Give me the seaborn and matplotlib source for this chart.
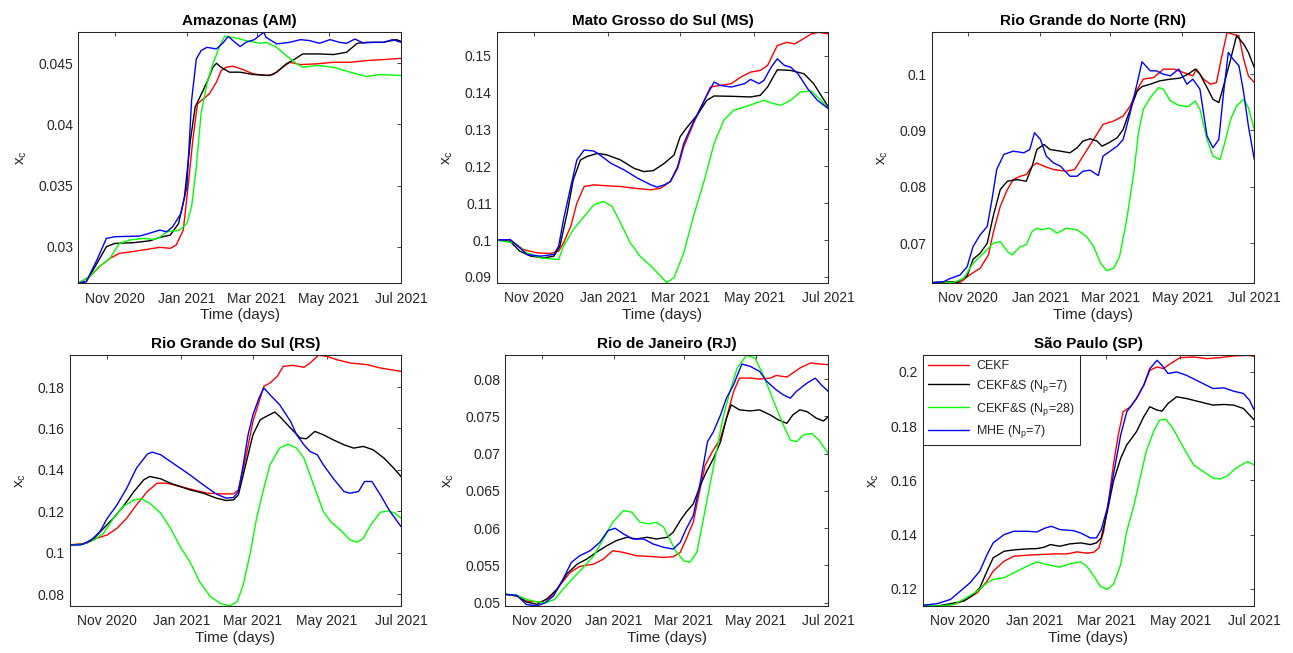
import numpy as np
import pandas as pd
import matplotlib
matplotlib.use("Agg")
import matplotlib.pyplot as plt
import matplotlib.dates as mdates
from matplotlib.ticker import MultipleLocator, FormatStrFormatter
from matplotlib.lines import Line2D
import seaborn as sns

# ---------------- data (day offsets from 2020-10-01, values of x_c) ----------------
START = "2020-10-01"
END = "2021-07-01"
methods = ["CEKF", "CEKF&S (N$_p$=7)", "CEKF&S (N$_p$=28)", "MHE (N$_p$=7)"]
colors = ["#ff0000", "#000000", "#00ff00", "#0000ff"]
titles = ["Amazonas (AM)", "Mato Grosso do Sul (MS)", "Rio Grande do Norte (RN)",
          "Rio Grande do Sul (RS)", "Rio de Janeiro (RJ)", "São Paulo (SP)"]
ytick_steps = [0.005, 0.01, 0.01, 0.02, 0.005, 0.02]

# Amazonas
am_cekf_d = [0, 10, 18, 27, 35, 46, 58, 69, 78, 83, 89, 93, 97, 101, 106, 111, 117, 121, 125, 131, 140, 148, 159, 165, 173, 179, 188, 202, 216, 230, 244, 258, 273]
am_cekf_v = [0.02701, 0.02756, 0.02837, 0.02905, 0.02946, 0.0296, 0.02978, 0.02995, 0.02987, 0.03014, 0.03136, 0.03489, 0.0387, 0.04169, 0.04209, 0.0425, 0.04345, 0.0444, 0.04467, 0.04476, 0.04446, 0.04413, 0.044, 0.04408, 0.04467, 0.04508, 0.04489, 0.04495, 0.04508, 0.04508, 0.04522, 0.0453, 0.0454]
am_s7_d = [0, 7, 16, 24, 31, 47, 61, 69, 78, 85, 90, 95, 99, 103, 109, 114, 117, 121, 128, 137, 148, 162, 168, 176, 182, 190, 204, 216, 227, 236, 244, 258, 269, 273]
am_s7_v = [0.02701, 0.02715, 0.02864, 0.03, 0.03027, 0.03033, 0.03049, 0.03076, 0.03095, 0.0319, 0.03408, 0.0387, 0.04141, 0.04223, 0.04345, 0.04467, 0.045, 0.04467, 0.04427, 0.04427, 0.04408, 0.044, 0.04427, 0.04495, 0.04527, 0.04576, 0.04576, 0.04571, 0.0459, 0.04663, 0.04671, 0.04671, 0.04693, 0.04679]
am_s28_d = [0, 10, 18, 27, 35, 44, 55, 64, 69, 75, 86, 92, 96, 100, 104, 109, 114, 120, 124, 131, 142, 154, 159, 168, 176, 185, 190, 202, 216, 230, 244, 255, 273]
am_s28_v = [0.02701, 0.02756, 0.02837, 0.02905, 0.03027, 0.03055, 0.03068, 0.0306, 0.03076, 0.03122, 0.03136, 0.0319, 0.03326, 0.03652, 0.04087, 0.04332, 0.04495, 0.04644, 0.0472, 0.04712, 0.04685, 0.04663, 0.04671, 0.0463, 0.04562, 0.04495, 0.04467, 0.04481, 0.04467, 0.04427, 0.04391, 0.04408, 0.044]
am_mhe_d = [0, 7, 16, 24, 31, 52, 58, 69, 75, 80, 87, 92, 96, 100, 104, 109, 117, 123, 127, 131, 137, 142, 149, 157, 159, 168, 179, 188, 196, 204, 213, 221, 227, 234, 241, 250, 258, 266, 273]
am_mhe_v = [0.02701, 0.02715, 0.02892, 0.03068, 0.03082, 0.03087, 0.03103, 0.03136, 0.03122, 0.03163, 0.03272, 0.03489, 0.04196, 0.04535, 0.04603, 0.0463, 0.04617, 0.04671, 0.0472, 0.04685, 0.04636, 0.04671, 0.04693, 0.04753, 0.04712, 0.04658, 0.04671, 0.04693, 0.04685, 0.04663, 0.04693, 0.04671, 0.04663, 0.04698, 0.04666, 0.04671, 0.04671, 0.04693, 0.04671]

# Mato Grosso do Sul
ms_cekf_d = [0, 11, 22, 33, 44, 51, 55, 61, 66, 72, 80, 91, 102, 113, 127, 135, 143, 149, 154, 162, 171, 176, 184, 193, 201, 209, 217, 223, 231, 239, 245, 250, 259, 265, 273]
ms_cekf_v = [0.1, 0.10013, 0.09744, 0.09654, 0.09636, 0.09699, 0.09924, 0.10373, 0.11002, 0.11451, 0.11496, 0.11469, 0.11451, 0.11406, 0.11361, 0.11406, 0.11586, 0.11945, 0.12529, 0.13158, 0.13787, 0.14146, 0.14191, 0.14236, 0.14416, 0.14551, 0.14596, 0.1473, 0.1527, 0.15359, 0.15314, 0.15404, 0.15584, 0.15629, 0.15584]
ms_s7_d = [0, 11, 19, 28, 39, 47, 52, 58, 63, 69, 74, 83, 91, 102, 113, 121, 129, 138, 146, 151, 157, 165, 173, 179, 193, 209, 217, 223, 231, 242, 253, 261, 273]
ms_s7_v = [0.1, 0.09968, 0.09699, 0.09564, 0.09519, 0.09564, 0.09834, 0.10732, 0.11631, 0.1217, 0.1226, 0.1235, 0.12305, 0.1217, 0.11945, 0.11855, 0.11882, 0.1208, 0.12305, 0.12799, 0.13068, 0.13383, 0.13787, 0.13904, 0.13895, 0.13877, 0.13922, 0.14146, 0.14614, 0.14596, 0.14506, 0.14236, 0.13607]
ms_s28_d = [0, 14, 25, 36, 44, 51, 55, 63, 72, 80, 88, 95, 102, 110, 118, 127, 135, 140, 146, 154, 162, 171, 179, 187, 195, 204, 212, 220, 228, 234, 242, 250, 259, 267, 273]
ms_s28_v = [0.1, 0.09924, 0.09654, 0.09519, 0.09492, 0.09474, 0.09834, 0.10283, 0.10642, 0.10957, 0.11047, 0.10912, 0.10463, 0.09924, 0.09564, 0.09295, 0.09025, 0.08845, 0.08982, 0.09654, 0.10642, 0.11631, 0.12619, 0.13248, 0.13518, 0.13607, 0.13697, 0.13787, 0.13697, 0.13652, 0.13787, 0.14012, 0.14039, 0.13787, 0.13562]
ms_mhe_d = [0, 11, 19, 25, 36, 47, 51, 55, 61, 66, 72, 80, 85, 94, 105, 116, 127, 132, 138, 143, 149, 154, 162, 173, 179, 184, 193, 204, 209, 216, 220, 226, 231, 237, 242, 248, 256, 264, 273]
ms_mhe_v = [0.1, 0.10013, 0.09789, 0.09609, 0.09564, 0.09609, 0.09834, 0.10553, 0.11451, 0.1217, 0.12439, 0.12412, 0.12305, 0.1208, 0.119, 0.11676, 0.11496, 0.11433, 0.11496, 0.11586, 0.1199, 0.12619, 0.13203, 0.13922, 0.14281, 0.14191, 0.14146, 0.14236, 0.14353, 0.14236, 0.14326, 0.14686, 0.1491, 0.1473, 0.14686, 0.14506, 0.14101, 0.13787, 0.13562]

# Rio Grande do Norte
rn_cekf_d = [0, 16, 24, 32, 41, 48, 52, 58, 64, 69, 75, 80, 85, 89, 95, 103, 114, 121, 128, 137, 145, 154, 162, 168, 174, 179, 188, 196, 205, 213, 221, 224, 230, 236, 241, 245, 250, 254, 260, 264, 268, 273]
rn_cekf_v = [0.06298, 0.06316, 0.06298, 0.06435, 0.06554, 0.06791, 0.07177, 0.07653, 0.0795, 0.08128, 0.08188, 0.08217, 0.08366, 0.08425, 0.08366, 0.08307, 0.08277, 0.08307, 0.08544, 0.08841, 0.09109, 0.09168, 0.09257, 0.09436, 0.09733, 0.09911, 0.09941, 0.10089, 0.10089, 0.1003, 0.0997, 0.10089, 0.09911, 0.09822, 0.09851, 0.10267, 0.10743, 0.10713, 0.10683, 0.10267, 0.0997, 0.09851]
rn_s7_d = [0, 13, 21, 30, 35, 41, 47, 52, 58, 64, 72, 80, 85, 89, 95, 100, 109, 117, 123, 128, 134, 140, 144, 150, 157, 162, 168, 174, 178, 185, 193, 202, 210, 217, 223, 227, 233, 238, 243, 247, 253, 258, 264, 268, 273]
rn_s7_v = [0.06298, 0.06316, 0.06298, 0.06417, 0.06714, 0.06821, 0.06999, 0.07475, 0.0795, 0.08099, 0.08128, 0.08099, 0.08366, 0.08663, 0.08752, 0.08663, 0.08633, 0.08604, 0.08693, 0.08812, 0.08853, 0.08812, 0.08722, 0.08782, 0.08871, 0.0902, 0.09376, 0.09703, 0.0978, 0.09822, 0.09881, 0.09911, 0.09929, 0.1, 0.10089, 0.1, 0.09762, 0.09554, 0.09495, 0.09792, 0.10267, 0.10683, 0.10535, 0.10386, 0.10119]
rn_s28_d = [0, 10, 18, 27, 35, 44, 52, 58, 64, 68, 75, 80, 85, 89, 93, 100, 106, 114, 123, 131, 137, 143, 148, 154, 159, 165, 171, 175, 179, 185, 192, 196, 202, 209, 217, 223, 227, 233, 238, 244, 248, 253, 258, 264, 268, 273]
rn_s28_v = [0.06298, 0.06316, 0.06298, 0.06375, 0.06643, 0.06821, 0.06999, 0.07029, 0.06851, 0.06791, 0.0694, 0.0697, 0.07207, 0.07267, 0.07237, 0.07267, 0.07177, 0.07267, 0.07237, 0.07118, 0.0694, 0.06643, 0.06512, 0.06554, 0.06762, 0.07415, 0.08247, 0.0896, 0.09376, 0.09584, 0.09762, 0.09733, 0.09525, 0.09447, 0.09424, 0.09525, 0.09376, 0.08841, 0.08544, 0.08485, 0.08782, 0.09198, 0.09436, 0.09554, 0.09406, 0.0902]
rn_mhe_d = [0, 10, 16, 24, 30, 35, 41, 47, 51, 55, 61, 69, 78, 83, 87, 92, 97, 103, 109, 117, 123, 128, 134, 141, 145, 151, 157, 162, 168, 174, 178, 185, 190, 196, 202, 209, 216, 221, 227, 233, 238, 243, 247, 251, 255, 260, 264, 268, 273]
rn_mhe_v = [0.06298, 0.06316, 0.06375, 0.06435, 0.06583, 0.0694, 0.07148, 0.07296, 0.07772, 0.08307, 0.08574, 0.08633, 0.08604, 0.08663, 0.0896, 0.08841, 0.08544, 0.08425, 0.08366, 0.08188, 0.08188, 0.08277, 0.08295, 0.082, 0.08544, 0.08633, 0.08722, 0.08841, 0.09317, 0.09851, 0.1022, 0.10059, 0.10059, 0.1, 0.0997, 0.10089, 0.09822, 0.09911, 0.09733, 0.08901, 0.08693, 0.08841, 0.09673, 0.10386, 0.10267, 0.10149, 0.09673, 0.09079, 0.08485]

# Rio Grande do Sul
rs_cekf_d = [0, 14, 22, 31, 39, 47, 55, 64, 72, 80, 91, 102, 113, 124, 135, 139, 145, 151, 160, 165, 171, 176, 184, 193, 198, 205, 212, 220, 231, 245, 256, 273]
rs_cekf_v = [0.10383, 0.10464, 0.10705, 0.10866, 0.11188, 0.11672, 0.12316, 0.1296, 0.13362, 0.13362, 0.13201, 0.1304, 0.12879, 0.12847, 0.12847, 0.1304, 0.1457, 0.16341, 0.18032, 0.18193, 0.18515, 0.18998, 0.19047, 0.1895, 0.19159, 0.1953, 0.19481, 0.1932, 0.19159, 0.19079, 0.18918, 0.18757]
rs_s7_d = [0, 11, 20, 28, 36, 44, 53, 61, 66, 75, 83, 91, 99, 110, 121, 129, 135, 139, 145, 151, 157, 162, 169, 173, 182, 190, 195, 202, 209, 217, 226, 234, 242, 250, 259, 267, 273]
rs_s7_v = [0.10383, 0.10415, 0.10705, 0.11188, 0.11672, 0.12235, 0.1296, 0.13523, 0.13684, 0.13572, 0.13362, 0.13201, 0.1304, 0.12879, 0.12638, 0.12525, 0.12557, 0.12799, 0.14248, 0.15697, 0.16422, 0.16583, 0.16792, 0.16583, 0.16019, 0.15536, 0.15504, 0.15858, 0.15697, 0.15456, 0.15214, 0.15053, 0.15134, 0.14973, 0.1457, 0.14087, 0.13684]
rs_s28_d = [0, 11, 20, 28, 36, 44, 53, 59, 66, 75, 83, 91, 99, 107, 116, 124, 132, 138, 143, 149, 154, 160, 165, 173, 180, 187, 193, 198, 204, 209, 215, 223, 231, 237, 242, 248, 256, 263, 268, 273]
rs_s28_v = [0.10383, 0.10415, 0.10625, 0.10947, 0.11672, 0.12235, 0.12557, 0.12605, 0.12396, 0.11913, 0.11188, 0.10303, 0.09578, 0.08612, 0.07887, 0.07565, 0.07437, 0.07646, 0.08451, 0.10061, 0.11672, 0.13121, 0.14248, 0.15053, 0.15246, 0.15053, 0.1457, 0.13765, 0.12799, 0.11994, 0.11511, 0.11108, 0.10625, 0.10512, 0.10705, 0.1135, 0.11961, 0.12026, 0.11913, 0.11672]
rs_mhe_d = [0, 9, 17, 25, 31, 39, 47, 55, 64, 68, 75, 83, 91, 99, 110, 121, 129, 135, 139, 143, 147, 151, 156, 160, 165, 173, 182, 187, 193, 198, 204, 209, 217, 226, 231, 238, 243, 249, 256, 264, 273]
rs_mhe_v = [0.10383, 0.10383, 0.10577, 0.11027, 0.11672, 0.12316, 0.13121, 0.14087, 0.14763, 0.1486, 0.14731, 0.14409, 0.14087, 0.13765, 0.13282, 0.12831, 0.12638, 0.1267, 0.1296, 0.14248, 0.15697, 0.16663, 0.17469, 0.17952, 0.1763, 0.17147, 0.16341, 0.15697, 0.15214, 0.14892, 0.14731, 0.14248, 0.13604, 0.1296, 0.12879, 0.1296, 0.13443, 0.13443, 0.12799, 0.11994, 0.11269]

# Rio de Janeiro
rj_cekf_d = [0, 10, 18, 30, 38, 46, 55, 63, 75, 83, 91, 100, 111, 122, 134, 142, 148, 153, 159, 163, 169, 175, 182, 187, 193, 198, 207, 215, 224, 229, 238, 243, 249, 258, 266, 273]
rj_cekf_v = [0.05113, 0.05091, 0.05023, 0.0501, 0.05068, 0.05226, 0.05406, 0.05487, 0.05518, 0.05585, 0.05698, 0.05675, 0.0563, 0.05621, 0.05608, 0.05617, 0.05675, 0.05855, 0.0608, 0.06395, 0.06844, 0.07024, 0.07204, 0.07474, 0.07834, 0.08013, 0.08013, 0.08, 0.08013, 0.08049, 0.08027, 0.08081, 0.08148, 0.08216, 0.08202, 0.08193]
rj_s7_d = [0, 10, 18, 27, 35, 44, 52, 61, 69, 77, 86, 94, 103, 111, 120, 128, 137, 142, 148, 153, 159, 165, 170, 176, 182, 187, 191, 198, 207, 215, 224, 231, 238, 243, 249, 255, 263, 269, 273]
rj_s7_v = [0.05113, 0.05091, 0.0501, 0.04978, 0.05046, 0.05181, 0.05383, 0.05518, 0.05585, 0.05675, 0.05765, 0.05833, 0.05878, 0.05855, 0.05878, 0.05855, 0.05878, 0.05945, 0.06102, 0.06215, 0.06327, 0.06575, 0.06754, 0.06934, 0.07159, 0.07474, 0.07654, 0.07587, 0.07573, 0.07587, 0.07519, 0.07451, 0.07406, 0.07519, 0.07587, 0.07564, 0.07474, 0.07438, 0.07496]
rj_s28_d = [0, 10, 18, 27, 35, 42, 49, 58, 66, 75, 83, 91, 100, 107, 114, 122, 128, 134, 139, 145, 151, 156, 162, 167, 173, 179, 184, 190, 196, 204, 211, 218, 227, 235, 241, 246, 252, 259, 265, 273]
rj_s28_v = [0.05113, 0.051, 0.05046, 0.0501, 0.05001, 0.05046, 0.05181, 0.05338, 0.05473, 0.0563, 0.05855, 0.0608, 0.06237, 0.06215, 0.0608, 0.06058, 0.0608, 0.06013, 0.05855, 0.05675, 0.05563, 0.0554, 0.05675, 0.0608, 0.06575, 0.07069, 0.07474, 0.07834, 0.08148, 0.08319, 0.08283, 0.08058, 0.07699, 0.07384, 0.07182, 0.07159, 0.07249, 0.07272, 0.07182, 0.07002]
rj_mhe_d = [0, 10, 18, 27, 34, 41, 49, 56, 63, 72, 80, 87, 93, 100, 108, 117, 125, 134, 142, 148, 153, 159, 165, 171, 176, 182, 187, 193, 200, 207, 215, 221, 229, 235, 241, 246, 255, 262, 267, 273]
rj_mhe_v = [0.05113, 0.051, 0.04976, 0.04956, 0.05001, 0.05091, 0.05316, 0.0554, 0.0563, 0.05698, 0.0581, 0.05968, 0.05999, 0.05923, 0.05855, 0.05855, 0.05788, 0.05743, 0.0572, 0.0581, 0.0599, 0.0617, 0.0662, 0.07159, 0.07294, 0.07519, 0.07744, 0.07924, 0.08202, 0.08171, 0.08103, 0.07969, 0.07856, 0.07789, 0.07744, 0.07834, 0.07946, 0.08013, 0.07924, 0.07834]

# Sao Paulo
sp_cekf_d = [0, 15, 26, 36, 45, 53, 58, 67, 75, 86, 97, 108, 119, 127, 135, 141, 145, 149, 153, 157, 161, 165, 171, 176, 182, 187, 193, 198, 204, 212, 223, 234, 245, 256, 267, 273]
sp_cekf_v = [0.11387, 0.11363, 0.11424, 0.11608, 0.11853, 0.12282, 0.12649, 0.13017, 0.13201, 0.13237, 0.13262, 0.13286, 0.13286, 0.1336, 0.13311, 0.13348, 0.13507, 0.1412, 0.15222, 0.1657, 0.17672, 0.1853, 0.18714, 0.1902, 0.1951, 0.20061, 0.20184, 0.20123, 0.20306, 0.20527, 0.20551, 0.2049, 0.20527, 0.20588, 0.20613, 0.20576]
sp_s7_d = [0, 12, 23, 34, 42, 47, 53, 58, 67, 75, 86, 94, 100, 105, 113, 121, 130, 138, 143, 147, 152, 157, 163, 168, 176, 182, 187, 193, 197, 202, 209, 217, 228, 239, 248, 256, 264, 273]
sp_s7_v = [0.11387, 0.11363, 0.11449, 0.11547, 0.11792, 0.12037, 0.12649, 0.13139, 0.13384, 0.13433, 0.1347, 0.13482, 0.13531, 0.13629, 0.13568, 0.13654, 0.13691, 0.13629, 0.13691, 0.13875, 0.14855, 0.15957, 0.16815, 0.17305, 0.17795, 0.18346, 0.18714, 0.18591, 0.18554, 0.18836, 0.19081, 0.1902, 0.18897, 0.18775, 0.18799, 0.18775, 0.18652, 0.18224]
sp_s28_d = [0, 15, 26, 36, 45, 53, 58, 67, 75, 86, 94, 102, 113, 121, 130, 135, 141, 146, 152, 157, 163, 168, 174, 179, 184, 190, 195, 200, 206, 215, 223, 231, 239, 245, 250, 258, 267, 273]
sp_s28_v = [0.11387, 0.11363, 0.11424, 0.11669, 0.11914, 0.12221, 0.12343, 0.12405, 0.12589, 0.12833, 0.12993, 0.12895, 0.12797, 0.1292, 0.12993, 0.12833, 0.12466, 0.12098, 0.11976, 0.12159, 0.12895, 0.1412, 0.151, 0.1608, 0.1706, 0.17795, 0.18224, 0.18257, 0.17917, 0.17182, 0.1657, 0.16325, 0.1608, 0.16055, 0.16141, 0.16447, 0.16692, 0.1657]
sp_mhe_d = [0, 12, 23, 31, 39, 47, 53, 58, 67, 75, 86, 94, 101, 106, 113, 124, 130, 138, 143, 147, 152, 157, 163, 168, 176, 182, 187, 193, 197, 202, 209, 217, 228, 239, 248, 256, 264, 269, 273]
sp_mhe_v = [0.11387, 0.11449, 0.11608, 0.11914, 0.12221, 0.12651, 0.13262, 0.13691, 0.13997, 0.1412, 0.1412, 0.14095, 0.14242, 0.14303, 0.14181, 0.14144, 0.14058, 0.13875, 0.13875, 0.14181, 0.14977, 0.16202, 0.17672, 0.1853, 0.1902, 0.1951, 0.20123, 0.20429, 0.2024, 0.19939, 0.2, 0.19877, 0.19632, 0.19387, 0.19412, 0.19289, 0.19204, 0.18959, 0.18591]

panels = [
    [(am_cekf_d, am_cekf_v), (am_s7_d, am_s7_v), (am_s28_d, am_s28_v), (am_mhe_d, am_mhe_v)],
    [(ms_cekf_d, ms_cekf_v), (ms_s7_d, ms_s7_v), (ms_s28_d, ms_s28_v), (ms_mhe_d, ms_mhe_v)],
    [(rn_cekf_d, rn_cekf_v), (rn_s7_d, rn_s7_v), (rn_s28_d, rn_s28_v), (rn_mhe_d, rn_mhe_v)],
    [(rs_cekf_d, rs_cekf_v), (rs_s7_d, rs_s7_v), (rs_s28_d, rs_s28_v), (rs_mhe_d, rs_mhe_v)],
    [(rj_cekf_d, rj_cekf_v), (rj_s7_d, rj_s7_v), (rj_s28_d, rj_s28_v), (rj_mhe_d, rj_mhe_v)],
    [(sp_cekf_d, sp_cekf_v), (sp_s7_d, sp_s7_v), (sp_s28_d, sp_s28_v), (sp_mhe_d, sp_mhe_v)],
]

# ---------------- style ----------------
sns.set_style("white")
AX_COLOR = "#262626"
plt.rcParams["font.family"] = ["Liberation Sans", "DejaVu Sans"]
plt.rcParams["mathtext.fontset"] = "custom"
plt.rcParams["mathtext.rm"] = "Liberation Sans"
plt.rcParams["mathtext.it"] = "Liberation Sans:italic"
plt.rcParams["mathtext.default"] = "regular"

W, H = 1293, 653
fig = plt.figure(figsize=(W / 100, H / 100), dpi=100, facecolor="white")

# axes boxes in pixels: left, top, right, bottom
boxes_px = [
    (78, 32.3, 401, 283.3),
    (496.7, 32.3, 828.3, 282.7),
    (931.7, 32.3, 1254.3, 282.7),
    (69.7, 355.3, 401, 606),
    (505, 355.3, 828.3, 606),
    (922.7, 355.3, 1254.3, 606),
]

palette = dict(zip(methods, colors))
t0 = pd.Timestamp(START)

for i, (series, title, step, (l, t, r, b)) in enumerate(zip(panels, titles, ytick_steps, boxes_px)):
    ax = fig.add_axes([l / W, 1 - b / H, (r - l) / W, (b - t) / H])
    frames = []
    for name, (d, v) in zip(methods, series):
        frames.append(pd.DataFrame({
            "date": t0 + pd.to_timedelta(np.asarray(d), unit="D"),
            "value": np.asarray(v, dtype=float),
            "method": name,
        }))
    df = pd.concat(frames, ignore_index=True)
    sns.lineplot(data=df, x="date", y="value", hue="method", hue_order=methods,
                 palette=palette, estimator=None, sort=False, legend=False,
                 linewidth=1.0, ax=ax)
    ax.set_xlim(pd.Timestamp(START), pd.Timestamp(END))
    ax.set_ylim(df["value"].min(), df["value"].max())
    ax.xaxis.set_major_locator(mdates.MonthLocator(bymonth=(1, 3, 5, 7, 11)))
    ax.xaxis.set_major_formatter(mdates.DateFormatter("%b %Y"))
    ax.yaxis.set_major_locator(MultipleLocator(step))
    ax.yaxis.set_major_formatter(FormatStrFormatter("%g"))
    ax.tick_params(axis="both", direction="in", top=True, right=True, length=3,
                   width=0.6, colors=AX_COLOR, labelsize=10)
    ax.tick_params(axis="x", pad=6)
    ax.tick_params(axis="y", pad=3.5)
    for sp in ax.spines.values():
        sp.set_visible(True)
        sp.set_color(AX_COLOR)
        sp.set_linewidth(0.75)
    ax.set_facecolor("white")
    ax.set_title(title, fontsize=11, fontweight="bold", color="black", pad=5)
    ax.set_xlabel("Time (days)", fontsize=11, color=AX_COLOR, labelpad=2)
    ax.set_ylabel("x$_c$", fontsize=11, color=AX_COLOR, labelpad=7)

    if i == 5:
        handles = [Line2D([], [], color=c, lw=1.0) for c in colors]
        leg = ax.legend(handles, methods, loc="upper left", bbox_to_anchor=(0, 1),
                        borderaxespad=0, frameon=True, fancybox=False,
                        edgecolor=AX_COLOR, fontsize=9, handlelength=3.3,
                        handletextpad=0.6, labelspacing=0.45, borderpad=0.4,
                        framealpha=1)
        leg.get_frame().set_linewidth(0.75)
        for txt in leg.get_texts():
            txt.set_color(AX_COLOR)

fig.savefig("out.png", dpi=100, facecolor="white")
